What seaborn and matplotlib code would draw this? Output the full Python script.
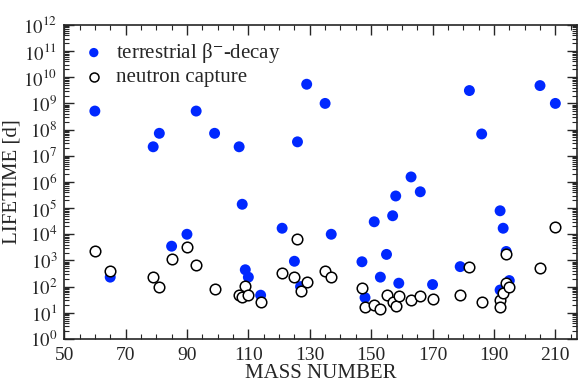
import numpy as np
import pandas as pd
import matplotlib
matplotlib.use("Agg")
import matplotlib.pyplot as plt
from matplotlib.ticker import LogLocator, FixedLocator, MultipleLocator, NullFormatter
import seaborn as sns

# terrestrial beta- decay lifetimes [d]
beta_mass = [60, 65, 79, 81, 85, 90, 93, 99, 107, 108, 109, 110, 114, 121, 125,
             126, 127, 129, 135, 137, 147, 148, 151, 153, 155, 157, 158, 159,
             163, 166, 170, 179, 182, 186, 192, 192, 193, 194, 195, 205, 210]
beta_life = [5.1e8, 2.3e2, 2.2e7, 7.2e7, 3.5e3, 1.0e4, 5.1e8, 7.2e7, 2.2e7, 1.4e5,
             4.4e2, 2.3e2, 47, 1.7e4, 9.3e2, 3.4e7, 1.0e2, 5.4e9, 1.0e9, 1.0e4,
             8.9e2, 38, 3.0e4, 2.3e2, 1.7e3, 5.1e4, 2.9e5, 1.35e2, 1.55e6, 4.2e5,
             1.2e2, 5.8e2, 3.1e9, 6.8e7, 7.9e4, 74, 1.7e4, 2.2e3, 1.7e2, 4.8e9, 1.0e9]

# neutron capture lifetimes [d]
ncap_mass = [60, 65, 79, 81, 85, 90, 93, 99, 107, 108, 109, 110, 114, 121, 125,
             126, 127, 129, 135, 137, 147, 148, 151, 153, 155, 157, 158, 159,
             163, 166, 170, 179, 182, 186, 192, 192, 193, 194, 194, 195, 205, 210]
ncap_life = [2.2e3, 4.0e2, 2.4e2, 1.0e2, 1.15e3, 3.2e3, 6.8e2, 81, 48, 40,
             1.1e2, 49, 25, 3.2e2, 2.4e2, 6.5e3, 71, 1.5e2, 4.1e2, 2.3e2,
             91, 16, 20, 14, 48, 25, 18, 42, 31, 44,
             35, 48, 5.5e2, 25, 31, 17, 56, 1.7e3, 1.4e2, 1.0e2, 5.1e2, 1.95e4]

x_ticks = [50, 70, 90, 110, 130, 150, 170, 190, 210]

beta = pd.DataFrame({"mass": beta_mass, "life": beta_life})
ncap = pd.DataFrame({"mass": ncap_mass, "life": ncap_life})

sns.set_style("ticks")
plt.rcParams["font.family"] = ["Liberation Serif", "DejaVu Serif"]
plt.rcParams["mathtext.fontset"] = "stix"

fig = plt.figure(figsize=(5.78, 3.83), dpi=100)
ax = fig.add_axes([0.111, 0.115, 0.887, 0.82])

sns.scatterplot(data=beta, x="mass", y="life", ax=ax, color="#0028ff",
                s=62, edgecolor="none", label="terrestrial β$^{-}$-decay", zorder=2)
sns.scatterplot(data=ncap, x="mass", y="life", ax=ax, facecolor="white",
                edgecolor="black", linewidth=1.1, s=58, label="neutron capture", zorder=3)

ax.set_yscale("log")
ax.set_ylim(1, 1e12)
ax.set_xlim(50, 217)
ax.set_yticks([10.0 ** k for k in range(13)])
ax.set_yticklabels([f"$10^{{{k}}}$" for k in range(13)])
ax.yaxis.set_minor_locator(LogLocator(base=10, subs=np.arange(2, 10), numticks=100))
ax.yaxis.set_minor_formatter(NullFormatter())
ax.xaxis.set_major_locator(FixedLocator(x_ticks))
ax.xaxis.set_minor_locator(MultipleLocator(5))

ax.tick_params(which="both", direction="in", top=True, right=True)
ax.tick_params(axis="x", pad=6, labelsize=14)
ax.tick_params(axis="y", pad=5, labelsize=13.5)
ax.tick_params(which="major", length=7, width=1)
ax.tick_params(which="minor", length=3.5, width=0.8)
for sp in ax.spines.values():
    sp.set_linewidth(1.2)

ax.set_xlabel("MASS NUMBER", fontsize=15, labelpad=0)
ax.set_ylabel("LIFETIME [d]", fontsize=15, labelpad=1)

ax.legend(loc="upper left", bbox_to_anchor=(0.005, 0.995), frameon=False, fontsize=15,
          markerscale=0.85, handlelength=1.2, handletextpad=0.45,
          labelspacing=0.12, borderaxespad=0.3)

plt.savefig("out.png", dpi=100)
